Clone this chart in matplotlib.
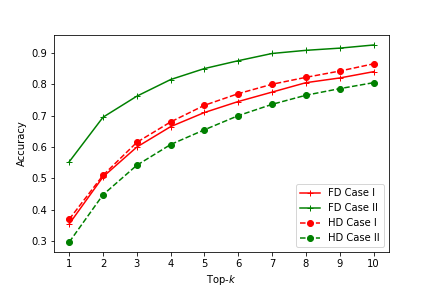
import matplotlib
matplotlib.use("Agg")
import matplotlib.pyplot as plt

k = list(range(1, 11))
fd_case1 = [0.355, 0.505, 0.600, 0.665, 0.710, 0.745, 0.775, 0.805, 0.820, 0.840]
fd_case2 = [0.553, 0.695, 0.762, 0.815, 0.850, 0.875, 0.898, 0.908, 0.915, 0.925]
hd_case1 = [0.370, 0.510, 0.615, 0.680, 0.733, 0.770, 0.800, 0.822, 0.842, 0.865]
hd_case2 = [0.297, 0.448, 0.542, 0.608, 0.655, 0.700, 0.736, 0.765, 0.786, 0.805]

fig, ax = plt.subplots(figsize=(6, 4), dpi=72)
fig.subplots_adjust(left=0.125, right=0.9, top=0.878, bottom=0.125)
ax.plot(k, fd_case1, 'r-+', label='FD Case I')
ax.plot(k, fd_case2, 'g-+', label='FD Case II')
ax.plot(k, hd_case1, 'r--o', label='HD Case I')
ax.plot(k, hd_case2, 'g--o', label='HD Case II')
ax.set_xticks(k)
ax.set_xlabel('Top-$k$')
ax.set_ylabel('Accuracy')
ax.legend(loc='lower right')
fig.savefig('out.png', dpi=72)
